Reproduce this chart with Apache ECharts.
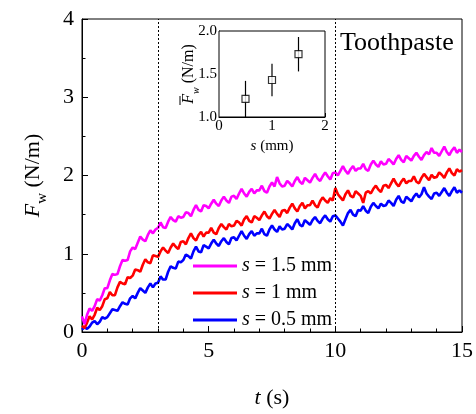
<!DOCTYPE html>
<html>
<head>
<meta charset="utf-8">
<script src="https://cdn.jsdelivr.net/npm/echarts@6/dist/echarts.min.js"></script>
<style>
html,body{margin:0;padding:0;background:#fff;}
#chart{width:476px;height:414px;}
</style>
</head>
<body>
<div id="chart"></div>
<script>
// Time samples (s), every 0.1 s from 0 to 15
const timeSec = [];
for (let i = 0; i <= 150; i++) timeSec.push(+(i * 0.1).toFixed(1));

// Wetting force F_w (N/m) for each gap s, one row per second
const force15 = [
  0.20,0.10,0.22,0.30,0.27,0.33,0.42,0.40,0.47,0.56,
  0.56,0.66,0.74,0.73,0.74,0.84,0.92,0.91,0.92,1.03,
  1.08,1.06,1.14,1.22,1.18,1.16,1.24,1.30,1.26,1.31,
  1.33,1.40,1.34,1.33,1.41,1.47,1.43,1.41,1.48,1.46,
  1.47,1.53,1.52,1.48,1.56,1.62,1.56,1.54,1.62,1.61,
  1.58,1.64,1.69,1.64,1.61,1.68,1.73,1.68,1.65,1.73,
  1.74,1.70,1.77,1.83,1.77,1.73,1.79,1.83,1.77,1.81,
  1.81,1.87,1.80,1.78,1.86,1.91,1.86,1.98,1.90,1.86,
  1.87,1.93,1.90,1.86,1.93,1.98,1.92,1.89,1.97,1.94,
  1.91,1.97,2.02,1.96,1.93,1.99,2.04,1.99,1.95,2.03,
  2.04,2.00,2.06,2.12,2.06,2.02,2.08,2.12,2.06,2.09,
  2.09,2.15,2.08,2.06,2.14,2.19,2.14,2.11,2.18,2.14,
  2.15,2.21,2.18,2.14,2.21,2.26,2.20,2.17,2.25,2.22,
  2.19,2.25,2.29,2.24,2.20,2.26,2.30,2.27,2.35,2.29,
  2.29,2.25,2.31,2.37,2.30,2.26,2.32,2.36,2.29,2.33,
  2.30
];
const force10 = [
  0.08,0.05,0.12,0.20,0.16,0.22,0.31,0.28,0.33,0.42,
  0.43,0.51,0.47,0.47,0.57,0.64,0.62,0.61,0.70,0.69,
  0.72,0.80,0.79,0.77,0.86,0.93,0.89,0.88,0.98,0.97,
  0.96,1.03,1.08,1.04,1.01,1.08,1.13,1.09,1.06,1.15,
  1.16,1.12,1.20,1.26,1.20,1.17,1.24,1.28,1.22,1.27,
  1.27,1.33,1.27,1.25,1.33,1.38,1.34,1.31,1.38,1.35,
  1.36,1.42,1.40,1.36,1.44,1.48,1.42,1.40,1.48,1.46,
  1.43,1.49,1.54,1.48,1.45,1.51,1.56,1.51,1.47,1.55,
  1.56,1.52,1.59,1.64,1.58,1.54,1.61,1.65,1.58,1.62,
  1.62,1.68,1.62,1.59,1.67,1.72,1.68,1.65,1.71,1.68,
  1.84,1.76,1.72,1.68,1.76,1.81,1.74,1.72,1.80,1.77,
  1.74,1.65,1.78,1.80,1.77,1.83,1.87,1.82,1.79,1.87,
  1.88,1.84,1.90,1.96,1.90,1.86,1.92,1.96,1.90,1.93,
  1.93,1.99,1.92,1.90,1.97,2.02,1.98,1.94,2.01,1.97,
  1.98,2.04,2.01,1.97,2.04,2.09,2.03,2.00,2.08,2.05,
  2.07
];
const force05 = [
  0.03,0.06,0.04,0.07,0.12,0.14,0.10,0.13,0.19,0.17,
  0.19,0.24,0.29,0.28,0.27,0.33,0.38,0.36,0.35,0.43,
  0.46,0.43,0.50,0.56,0.53,0.50,0.57,0.62,0.57,0.62,
  0.63,0.71,0.67,0.67,0.77,0.84,0.82,0.81,0.90,0.89,
  0.92,0.99,0.97,0.94,1.03,1.09,1.03,1.02,1.11,1.09,
  1.07,1.13,1.18,1.13,1.10,1.16,1.20,1.15,1.12,1.20,
  1.21,1.17,1.23,1.29,1.23,1.19,1.25,1.29,1.23,1.26,
  1.26,1.32,1.25,1.23,1.31,1.36,1.31,1.28,1.35,1.31,
  1.32,1.38,1.35,1.31,1.39,1.44,1.37,1.35,1.43,1.40,
  1.37,1.43,1.47,1.42,1.39,1.45,1.49,1.44,1.41,1.48,
  1.49,1.45,1.41,1.36,1.44,1.52,1.56,1.50,1.48,1.56,
  1.55,1.61,1.55,1.52,1.60,1.65,1.61,1.58,1.64,1.61,
  1.62,1.68,1.65,1.61,1.69,1.74,1.67,1.65,1.73,1.70,
  1.67,1.73,1.77,1.72,1.76,1.85,1.77,1.73,1.70,1.77,
  1.78,1.74,1.79,1.84,1.78,1.74,1.80,1.85,1.78,1.81,
  1.78
];

const seriesNames = ['s = 1.5 mm', 's = 1 mm', 's = 0.5 mm'];
const seriesColors = ['#ff00ff', '#ff0000', '#0000ff'];
const seriesValues = [force15, force10, force05];

// Mean force vs gap (inset)
const gapMm = [0.5, 1.0, 1.5];
const meanForce = [1.21, 1.43, 1.73];
const meanErr = [0.21, 0.19, 0.20];

// Marked time window (s)
const markTimes = [3, 10];

const serif = '"Liberation Serif", "DejaVu Serif", serif';

const chart = echarts.init(document.getElementById('chart'), null, {renderer: 'canvas'});

const lineSeries = seriesNames.map((name, k) => ({
  name: name,
  type: 'line',
  xAxisIndex: 0, yAxisIndex: 0,
  data: timeSec.map((t, i) => [t, seriesValues[k][i]]),
  showSymbol: false,
  symbol: 'none',
  lineStyle: {color: seriesColors[k], width: 2.6},
  itemStyle: {color: seriesColors[k]},
  z: 3 - k,
  animation: false
}));

// dotted vertical markers on the first series
lineSeries[0].markLine = {
  silent: true,
  symbol: 'none',
  label: {show: false},
  lineStyle: {color: '#000', type: [2, 2], width: 1},
  data: markTimes.map(t => ({xAxis: t}))
};

const option = {
  animation: false,
  backgroundColor: '#fff',
  textStyle: {fontFamily: serif, color: '#000'},
  grid: [
    {left: 82, right: 13, top: 19, bottom: 82, show: true, borderColor: '#000', borderWidth: 1, backgroundColor: 'transparent'},
    {left: 219, right: 151, top: 31, bottom: 297, show: true, borderColor: '#000', borderWidth: 1, backgroundColor: '#fff', z: 10}
  ],
  legend: {
    orient: 'vertical',
    left: 188,
    top: 251,
    itemWidth: 44,
    itemHeight: 3,
    itemGap: 7,
    icon: 'rect',
    data: seriesNames,
    textStyle: {
      fontFamily: serif, fontSize: 20, color: '#000',
      rich: {i: {fontFamily: serif, fontStyle: 'italic', fontSize: 20, color: '#000'},
             n: {fontFamily: serif, fontSize: 20, color: '#000'}}
    },
    formatter: name => '{i|s}{n|' + name.slice(1) + '}'
  },
  xAxis: [
    {
      gridIndex: 0, type: 'value', min: 0, max: 15, interval: 5,
      axisLine: {show: true, lineStyle: {color: '#000', width: 1}},
      axisTick: {show: true, inside: true, length: 6, lineStyle: {color: '#000'}},
      minorTick: {show: true, splitNumber: 5, length: 3.5, lineStyle: {color: '#000'}},
      splitLine: {show: false},
      axisLabel: {fontFamily: serif, fontSize: 22, color: '#000', margin: 8},
      name: '{i|t} (s)',
      nameLocation: 'middle',
      nameGap: 55,
      nameTextStyle: {fontFamily: serif, fontSize: 22, color: '#000',
        rich: {i: {fontFamily: serif, fontStyle: 'italic', fontSize: 22, color: '#000'}}}
    },
    {
      gridIndex: 1, type: 'value', min: 0, max: 2, interval: 1,
      axisLine: {show: true, onZero: false, lineStyle: {color: '#000', width: 1}},
      axisTick: {show: true, inside: true, length: 4, lineStyle: {color: '#000'}},
      splitLine: {show: false},
      axisLabel: {fontFamily: serif, fontSize: 15, color: '#000', margin: 2},
      name: '{i|s} (mm)',
      nameLocation: 'middle',
      nameGap: 22,
      nameTextStyle: {fontFamily: serif, fontSize: 15, color: '#000',
        rich: {i: {fontFamily: serif, fontStyle: 'italic', fontSize: 15, color: '#000'}}}
    }
  ],
  yAxis: [
    {
      gridIndex: 0, type: 'value', min: 0, max: 4, interval: 1,
      axisLine: {show: true, lineStyle: {color: '#000', width: 1}},
      axisTick: {show: true, inside: true, length: 6, lineStyle: {color: '#000'}},
      minorTick: {show: true, splitNumber: 2, length: 3.5, lineStyle: {color: '#000'}},
      splitLine: {show: false},
      axisLabel: {fontFamily: serif, fontSize: 22, color: '#000', margin: 8},
      name: '{i|F}{s|w}{n| (N/m)}',
      nameLocation: 'middle',
      nameGap: 38,
      nameRotate: 90,
      nameTextStyle: {fontFamily: serif, fontSize: 22, color: '#000',
        rich: {
          i: {fontFamily: serif, fontStyle: 'italic', fontSize: 22, color: '#000', verticalAlign: 'bottom', lineHeight: 26},
          s: {fontFamily: serif, fontSize: 15, color: '#000', verticalAlign: 'bottom', lineHeight: 26, padding: [0, 0, -6, 0]},
          n: {fontFamily: serif, fontSize: 22, color: '#000', verticalAlign: 'bottom', lineHeight: 26}
        }}
    },
    {
      gridIndex: 1, type: 'value', min: 1, max: 2, interval: 0.5,
      axisLine: {show: true, onZero: false, lineStyle: {color: '#000', width: 1}},
      axisTick: {show: true, inside: true, length: 4, lineStyle: {color: '#000'}},
      splitLine: {show: false},
      axisLabel: {fontFamily: serif, fontSize: 15, color: '#000', margin: 2, formatter: v => v.toFixed(1)}
    }
  ],
  graphic: [
    {type: 'text', left: 340, top: 30, z: 20,
     style: {text: 'Toothpaste', font: '26px ' + serif, fill: '#000'}},
    // inset axis title: mean force with an overbar
    {type: 'group', x: 188, y: 74, rotation: Math.PI / 2, z: 20, children: [
      {type: 'text', x: 0, y: 0,
       style: {
         text: '{i|F}{s|w}{n| (N/m)}',
         align: 'center', verticalAlign: 'middle',
         fill: '#000',
         rich: {
           i: {fontFamily: serif, fontStyle: 'italic', fontSize: 16, fill: '#000', verticalAlign: 'bottom', lineHeight: 18},
           s: {fontFamily: serif, fontStyle: 'italic', fontSize: 10, fill: '#000', verticalAlign: 'bottom', lineHeight: 18, padding: [0, 0, -4, 0]},
           n: {fontFamily: serif, fontSize: 16, fill: '#000', verticalAlign: 'bottom', lineHeight: 18}
         }
       }},
      {type: 'line', shape: {x1: -31, y1: -8, x2: -22, y2: -8},
       style: {stroke: '#000', lineWidth: 1}}
    ]}
  ],
  series: lineSeries.concat([
    {
      name: 'errorbars',
      type: 'custom',
      xAxisIndex: 1, yAxisIndex: 1,
      clip: true,
      z: 11,
      data: gapMm.map((g, i) => [g, meanForce[i] - meanErr[i], meanForce[i] + meanErr[i]]),
      renderItem: function (params, api) {
        const lo = api.coord([api.value(0), api.value(1)]);
        const hi = api.coord([api.value(0), api.value(2)]);
        return {
          type: 'line',
          shape: {x1: lo[0], y1: lo[1], x2: hi[0], y2: hi[1]},
          style: {stroke: '#000', lineWidth: 1.2}
        };
      },
      animation: false
    },
    {
      name: 'mean',
      type: 'scatter',
      xAxisIndex: 1, yAxisIndex: 1,
      z: 12,
      symbol: 'rect',
      symbolSize: 7,
      itemStyle: {color: '#fff', borderColor: '#000', borderWidth: 1.2},
      data: gapMm.map((g, i) => [g, meanForce[i]]),
      animation: false
    }
  ])
};

chart.setOption(option);
</script>
</body>
</html>
